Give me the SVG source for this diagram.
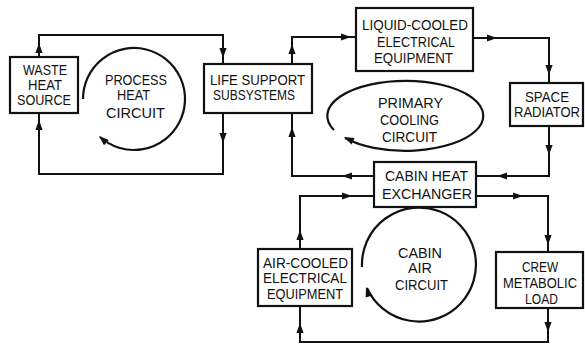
<svg xmlns="http://www.w3.org/2000/svg" xmlns:xlink="http://www.w3.org/1999/xlink" width="585" height="355" viewBox="0 0 585 355">
<style>
.box{fill:#fff;stroke:#111;stroke-width:2.2}
.ln{fill:none;stroke:#111;stroke-width:2}
.cir{fill:none;stroke:#111;stroke-width:2.2}
text{font-family:"Liberation Sans",Arial,sans-serif;font-size:15px;fill:#111}
</style>
<defs>
<path id="ah" d="M0,0 L-10,-3.6 L-10,3.6 Z" fill="#111"/>
</defs>
<rect width="585" height="355" fill="#fff"/>
<g id="connectors">
<path class="ln" d="M39,57 V35 H223 V64"/>
<path class="ln" d="M223,113 V174 H39 V113"/>
<path class="ln" d="M292,64 V37 H356"/>
<path class="ln" d="M473,38 H549 V83"/>
<path class="ln" d="M549,126 V176 H475"/>
<path class="ln" d="M374,176 H292 V113"/>
<path class="ln" d="M300,250 V196 H374"/>
<path class="ln" d="M476,196 H548 V252"/>
<path class="ln" d="M548,308 V342 H300 V306"/>
<use xlink:href="#ah" transform="translate(39,43) rotate(-90)"/>
<use xlink:href="#ah" transform="translate(223,58) rotate(90)"/>
<use xlink:href="#ah" transform="translate(223,143) rotate(90)"/>
<use xlink:href="#ah" transform="translate(39,120) rotate(-90)"/>
<use xlink:href="#ah" transform="translate(292,44) rotate(-90)"/>
<use xlink:href="#ah" transform="translate(351,37)"/>
<use xlink:href="#ah" transform="translate(497,38)"/>
<use xlink:href="#ah" transform="translate(549,75) rotate(90)"/>
<use xlink:href="#ah" transform="translate(549,155) rotate(90)"/>
<use xlink:href="#ah" transform="translate(497,176) rotate(180)"/>
<use xlink:href="#ah" transform="translate(342,176) rotate(180)"/>
<use xlink:href="#ah" transform="translate(292,127) rotate(-90)"/>
<use xlink:href="#ah" transform="translate(300,230) rotate(-90)"/>
<use xlink:href="#ah" transform="translate(352,196)"/>
<use xlink:href="#ah" transform="translate(523,196)"/>
<use xlink:href="#ah" transform="translate(548,245) rotate(90)"/>
<use xlink:href="#ah" transform="translate(548,332) rotate(90)"/>
<use xlink:href="#ah" transform="translate(300,323) rotate(-90)"/>
</g>
<g id="process-heat-circuit">
<path class="cir" d="M83,99 A51,51 0 1 1 100,137"/>
<use xlink:href="#ah" transform="translate(99,136) rotate(222)"/>
<text x="105" y="85" textLength="62" lengthAdjust="spacingAndGlyphs">PROCESS</text>
<text x="117" y="100" textLength="33" lengthAdjust="spacingAndGlyphs">HEAT</text>
<text x="106" y="118" textLength="59" lengthAdjust="spacingAndGlyphs">CIRCUIT</text>
</g>
<g id="primary-cooling-circuit">
<path class="cir" d="M334,130 A78,35 0 1 1 345,138"/>
<use xlink:href="#ah" transform="translate(344,137) rotate(205)"/>
<text x="378" y="108" textLength="65" lengthAdjust="spacingAndGlyphs">PRIMARY</text>
<text x="380" y="125" textLength="59" lengthAdjust="spacingAndGlyphs">COOLING</text>
<text x="382" y="142" textLength="55" lengthAdjust="spacingAndGlyphs">CIRCUIT</text>
</g>
<g id="cabin-air-circuit">
<path class="cir" d="M362,267 A57,57 0 1 1 367,288"/>
<use xlink:href="#ah" transform="translate(366,287) rotate(252)"/>
<text x="398" y="258" textLength="44" lengthAdjust="spacingAndGlyphs">CABIN</text>
<text x="408" y="273" textLength="24" lengthAdjust="spacingAndGlyphs">AIR</text>
<text x="395" y="290" textLength="53" lengthAdjust="spacingAndGlyphs">CIRCUIT</text>
</g>
<g id="waste-heat-source">
<rect class="box" x="10" y="57" width="68" height="56"/>
<text x="23" y="75" textLength="44" lengthAdjust="spacingAndGlyphs">WASTE</text>
<text x="28" y="90" textLength="34" lengthAdjust="spacingAndGlyphs">HEAT</text>
<text x="17" y="105" textLength="54" lengthAdjust="spacingAndGlyphs">SOURCE</text>
</g>
<g id="life-support-subsystems">
<rect class="box" x="204" y="64" width="108" height="49"/>
<text x="210" y="85" textLength="95" lengthAdjust="spacingAndGlyphs">LIFE SUPPORT</text>
<text x="213" y="100" textLength="82" lengthAdjust="spacingAndGlyphs">SUBSYSTEMS</text>
</g>
<g id="liquid-cooled-electrical-equipment">
<rect class="box" x="356" y="8" width="117" height="63"/>
<text x="362" y="30" textLength="106" lengthAdjust="spacingAndGlyphs">LIQUID-COOLED</text>
<text x="377" y="47" textLength="78" lengthAdjust="spacingAndGlyphs">ELECTRICAL</text>
<text x="374" y="63" textLength="79" lengthAdjust="spacingAndGlyphs">EQUIPMENT</text>
</g>
<g id="space-radiator">
<rect class="box" x="510" y="83" width="73" height="43"/>
<text x="525" y="102" textLength="44" lengthAdjust="spacingAndGlyphs">SPACE</text>
<text x="514" y="117" textLength="66" lengthAdjust="spacingAndGlyphs">RADIATOR</text>
</g>
<g id="cabin-heat-exchanger">
<rect class="box" x="374" y="162" width="102" height="45"/>
<text x="385" y="181" textLength="83" lengthAdjust="spacingAndGlyphs">CABIN HEAT</text>
<text x="382" y="199" textLength="90" lengthAdjust="spacingAndGlyphs">EXCHANGER</text>
</g>
<g id="air-cooled-electrical-equipment">
<rect class="box" x="258" y="249" width="94" height="57"/>
<text x="263" y="268" textLength="85" lengthAdjust="spacingAndGlyphs">AIR-COOLED</text>
<text x="263" y="283" textLength="84" lengthAdjust="spacingAndGlyphs">ELECTRICAL</text>
<text x="267" y="299" textLength="76" lengthAdjust="spacingAndGlyphs">EQUIPMENT</text>
</g>
<g id="crew-metabolic-load">
<rect class="box" x="496" y="252" width="87" height="56"/>
<text x="522" y="272" textLength="36" lengthAdjust="spacingAndGlyphs">CREW</text>
<text x="503" y="288" textLength="74" lengthAdjust="spacingAndGlyphs">METABOLIC</text>
<text x="525" y="304" textLength="33" lengthAdjust="spacingAndGlyphs">LOAD</text>
</g>
</svg>
